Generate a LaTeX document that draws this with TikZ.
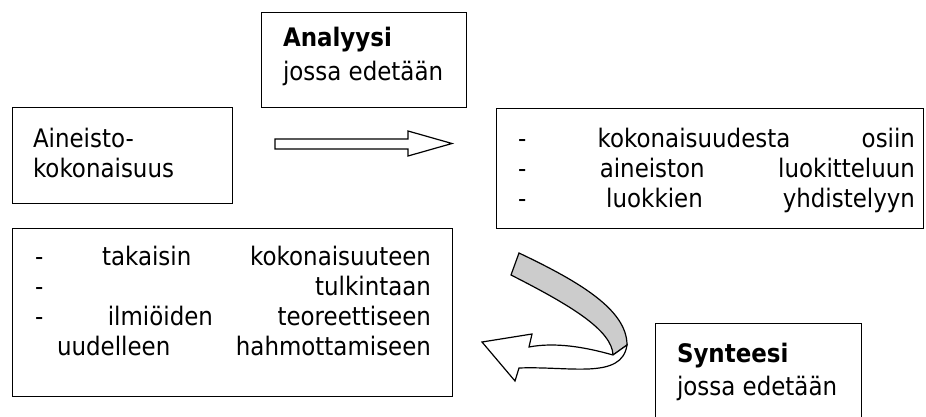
\documentclass[tikz,border=0pt]{standalone}
\usepackage{fontspec}
\setmainfont[FakeStretch=0.9]{DejaVu Sans}
\definecolor{ribbon}{RGB}{204,204,204}
\tikzset{
  box/.style={draw, line width=1.3pt, inner sep=0pt, anchor=north west},
  txt/.style={anchor=base west, inner sep=0pt, outer sep=0pt, font=\fontsize{25.5}{30}\selectfont},
  blockarrow/.style={draw, line width=1.2pt, line join=miter},
}
\begin{document}
\begin{tikzpicture}[x=1pt, y=-1pt]
\useasboundingbox (0,0) rectangle (926,417);

% boxes
\node[box, minimum width=205pt, minimum height=95pt]  (analyysi) at (261,12)  {};
\node[box, minimum width=220pt, minimum height=96pt]  (aineisto) at (12,107)  {};
\node[box, minimum width=427pt, minimum height=120pt] (osat)     at (496,108) {};
\node[box, minimum width=440pt, minimum height=168pt] (kokonais) at (12,228)  {};
\node[box, minimum width=206pt, minimum height=110pt] (synteesi) at (655,323) {};

% texts
\node[txt] (t1) at (283,47) {\bfseries Analyysi};
\node[txt] (t2) at (283,81) {jossa edetään};
\node[txt] (t3) at (33,147) {Aineisto-};
\node[txt] (t4) at (33,177) {kokonaisuus};

\node[txt] (r1) at (518,147) {\makebox[397pt][s]{- kokonaisuudesta osiin}};
\node[txt] (r2) at (518,177) {\makebox[397pt][s]{- aineiston luokitteluun}};
\node[txt] (r3) at (518,207) {\makebox[397pt][s]{- luokkien yhdistelyyn}};

\node[txt] (l1) at (35,265) {\makebox[396pt][s]{- takaisin kokonaisuuteen}};
\node[txt] (l2) at (35,295) {\makebox[396pt][s]{- tulkintaan}};
\node[txt] (l3) at (35,325) {\makebox[396pt][s]{- ilmiöiden teoreettiseen}};
\node[txt] (l4) at (57,355) {\makebox[374pt][s]{uudelleen hahmottamiseen}};

\node[txt] (t5) at (677,362) {\bfseries Synteesi};
\node[txt] (t6) at (677,395) {jossa edetään};

% straight block arrow
\draw[blockarrow, fill=white] (275,139) -- (408,139) -- (408,131) -- (452,143.5)
  -- (408,156) -- (408,149) -- (275,149) -- cycle;

% curved ribbon arrow
\coordinate (A) at (519,253);
\coordinate (B) at (511,275);
\coordinate (T2) at (627,345);
\coordinate (T1) at (613,355);
\coordinate (N1) at (529,347);
\coordinate (H1) at (532,334);
\coordinate (P) at (482,342);
\coordinate (H2) at (515,381);
\coordinate (N2) at (519,368);
\draw[blockarrow, fill=ribbon] (A) .. controls (580,282) and (627,310) .. (T2)
  -- (T1) .. controls (612,330) and (570,305) .. (B) -- cycle;
\draw[blockarrow, fill=white] (T2) -- (T1) .. controls (585,347) and (555,342) .. (N1)
  -- (H1) -- (P) -- (H2) -- (N2) .. controls (570,366) and (622,380) .. (T2) -- cycle;
\end{tikzpicture}
\end{document}
